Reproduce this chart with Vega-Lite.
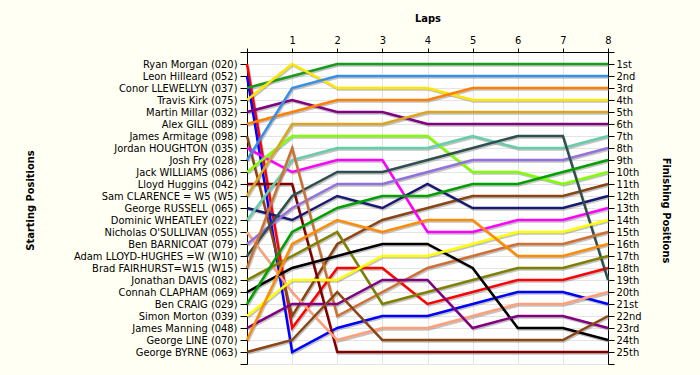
{
  "$schema": "https://vega.github.io/schema/vega-lite/v6.json",
  "autosize": {"type": "none"},
  "width": 361,
  "height": 312,
  "padding": {"left": 247, "top": 52, "right": 92, "bottom": 11},
  "background": "#FFFFF4",
  "view": {"fill": "white", "stroke": null},
  "config": {"font": "DejaVu Sans Condensed"},
  "data": {"values": [
    {"r":"Ryan Morgan (020)","l":0,"p":1},{"r":"Ryan Morgan (020)","l":1,"p":23},{"r":"Ryan Morgan (020)","l":2,"p":18},{"r":"Ryan Morgan (020)","l":3,"p":18},{"r":"Ryan Morgan (020)","l":4,"p":21},{"r":"Ryan Morgan (020)","l":5,"p":20},{"r":"Ryan Morgan (020)","l":6,"p":19},{"r":"Ryan Morgan (020)","l":7,"p":19},{"r":"Ryan Morgan (020)","l":8,"p":18},
    {"r":"Leon Hilleard (052)","l":0,"p":2},{"r":"Leon Hilleard (052)","l":1,"p":25},{"r":"Leon Hilleard (052)","l":2,"p":23},{"r":"Leon Hilleard (052)","l":3,"p":22},{"r":"Leon Hilleard (052)","l":4,"p":22},{"r":"Leon Hilleard (052)","l":5,"p":21},{"r":"Leon Hilleard (052)","l":6,"p":20},{"r":"Leon Hilleard (052)","l":7,"p":20},{"r":"Leon Hilleard (052)","l":8,"p":21},
    {"r":"Conor LLEWELLYN (037)","l":0,"p":3},{"r":"Conor LLEWELLYN (037)","l":1,"p":2},{"r":"Conor LLEWELLYN (037)","l":2,"p":1},{"r":"Conor LLEWELLYN (037)","l":3,"p":1},{"r":"Conor LLEWELLYN (037)","l":4,"p":1},{"r":"Conor LLEWELLYN (037)","l":5,"p":1},{"r":"Conor LLEWELLYN (037)","l":6,"p":1},{"r":"Conor LLEWELLYN (037)","l":7,"p":1},{"r":"Conor LLEWELLYN (037)","l":8,"p":1},
    {"r":"Travis Kirk (075)","l":0,"p":4},{"r":"Travis Kirk (075)","l":1,"p":1},{"r":"Travis Kirk (075)","l":2,"p":3},{"r":"Travis Kirk (075)","l":3,"p":3},{"r":"Travis Kirk (075)","l":4,"p":3},{"r":"Travis Kirk (075)","l":5,"p":4},{"r":"Travis Kirk (075)","l":6,"p":4},{"r":"Travis Kirk (075)","l":7,"p":4},{"r":"Travis Kirk (075)","l":8,"p":4},
    {"r":"Martin Millar (032)","l":0,"p":5},{"r":"Martin Millar (032)","l":1,"p":4},{"r":"Martin Millar (032)","l":2,"p":5},{"r":"Martin Millar (032)","l":3,"p":5},{"r":"Martin Millar (032)","l":4,"p":6},{"r":"Martin Millar (032)","l":5,"p":6},{"r":"Martin Millar (032)","l":6,"p":6},{"r":"Martin Millar (032)","l":7,"p":6},{"r":"Martin Millar (032)","l":8,"p":6},
    {"r":"Alex GILL (089)","l":0,"p":6},{"r":"Alex GILL (089)","l":1,"p":5},{"r":"Alex GILL (089)","l":2,"p":4},{"r":"Alex GILL (089)","l":3,"p":4},{"r":"Alex GILL (089)","l":4,"p":4},{"r":"Alex GILL (089)","l":5,"p":3},{"r":"Alex GILL (089)","l":6,"p":3},{"r":"Alex GILL (089)","l":7,"p":3},{"r":"Alex GILL (089)","l":8,"p":3},
    {"r":"James Armitage (098)","l":0,"p":7},{"r":"James Armitage (098)","l":1,"p":22},{"r":"James Armitage (098)","l":2,"p":16},{"r":"James Armitage (098)","l":3,"p":14},{"r":"James Armitage (098)","l":4,"p":13},{"r":"James Armitage (098)","l":5,"p":12},{"r":"James Armitage (098)","l":6,"p":12},{"r":"James Armitage (098)","l":7,"p":12},{"r":"James Armitage (098)","l":8,"p":11},
    {"r":"Jordan HOUGHTON (035)","l":0,"p":8},{"r":"Jordan HOUGHTON (035)","l":1,"p":10},{"r":"Jordan HOUGHTON (035)","l":2,"p":9},{"r":"Jordan HOUGHTON (035)","l":3,"p":9},{"r":"Jordan HOUGHTON (035)","l":4,"p":15},{"r":"Jordan HOUGHTON (035)","l":5,"p":15},{"r":"Jordan HOUGHTON (035)","l":6,"p":14},{"r":"Jordan HOUGHTON (035)","l":7,"p":14},{"r":"Jordan HOUGHTON (035)","l":8,"p":13},
    {"r":"Josh Fry (028)","l":0,"p":9},{"r":"Josh Fry (028)","l":1,"p":3},{"r":"Josh Fry (028)","l":2,"p":2},{"r":"Josh Fry (028)","l":3,"p":2},{"r":"Josh Fry (028)","l":4,"p":2},{"r":"Josh Fry (028)","l":5,"p":2},{"r":"Josh Fry (028)","l":6,"p":2},{"r":"Josh Fry (028)","l":7,"p":2},{"r":"Josh Fry (028)","l":8,"p":2},
    {"r":"Jack WILLIAMS (086)","l":0,"p":10},{"r":"Jack WILLIAMS (086)","l":1,"p":7},{"r":"Jack WILLIAMS (086)","l":2,"p":7},{"r":"Jack WILLIAMS (086)","l":3,"p":7},{"r":"Jack WILLIAMS (086)","l":4,"p":7},{"r":"Jack WILLIAMS (086)","l":5,"p":10},{"r":"Jack WILLIAMS (086)","l":6,"p":10},{"r":"Jack WILLIAMS (086)","l":7,"p":11},{"r":"Jack WILLIAMS (086)","l":8,"p":10},
    {"r":"Lloyd Huggins (042)","l":0,"p":11},{"r":"Lloyd Huggins (042)","l":1,"p":11},{"r":"Lloyd Huggins (042)","l":2,"p":25},{"r":"Lloyd Huggins (042)","l":3,"p":25},{"r":"Lloyd Huggins (042)","l":4,"p":25},{"r":"Lloyd Huggins (042)","l":5,"p":25},{"r":"Lloyd Huggins (042)","l":6,"p":25},{"r":"Lloyd Huggins (042)","l":7,"p":25},{"r":"Lloyd Huggins (042)","l":8,"p":25},
    {"r":"Sam CLARENCE = W5 (W5)","l":0,"p":12},{"r":"Sam CLARENCE = W5 (W5)","l":1,"p":6},{"r":"Sam CLARENCE = W5 (W5)","l":2,"p":6},{"r":"Sam CLARENCE = W5 (W5)","l":3,"p":6},{"r":"Sam CLARENCE = W5 (W5)","l":4,"p":5},{"r":"Sam CLARENCE = W5 (W5)","l":5,"p":5},{"r":"Sam CLARENCE = W5 (W5)","l":6,"p":5},{"r":"Sam CLARENCE = W5 (W5)","l":7,"p":5},{"r":"Sam CLARENCE = W5 (W5)","l":8,"p":5},
    {"r":"George RUSSELL (065)","l":0,"p":13},{"r":"George RUSSELL (065)","l":1,"p":14},{"r":"George RUSSELL (065)","l":2,"p":12},{"r":"George RUSSELL (065)","l":3,"p":13},{"r":"George RUSSELL (065)","l":4,"p":11},{"r":"George RUSSELL (065)","l":5,"p":13},{"r":"George RUSSELL (065)","l":6,"p":13},{"r":"George RUSSELL (065)","l":7,"p":13},{"r":"George RUSSELL (065)","l":8,"p":12},
    {"r":"Dominic WHEATLEY (022)","l":0,"p":14},{"r":"Dominic WHEATLEY (022)","l":1,"p":9},{"r":"Dominic WHEATLEY (022)","l":2,"p":8},{"r":"Dominic WHEATLEY (022)","l":3,"p":8},{"r":"Dominic WHEATLEY (022)","l":4,"p":8},{"r":"Dominic WHEATLEY (022)","l":5,"p":7},{"r":"Dominic WHEATLEY (022)","l":6,"p":8},{"r":"Dominic WHEATLEY (022)","l":7,"p":8},{"r":"Dominic WHEATLEY (022)","l":8,"p":7},
    {"r":"Nicholas O'SULLIVAN (055)","l":0,"p":15},{"r":"Nicholas O'SULLIVAN (055)","l":1,"p":20},{"r":"Nicholas O'SULLIVAN (055)","l":2,"p":24},{"r":"Nicholas O'SULLIVAN (055)","l":3,"p":23},{"r":"Nicholas O'SULLIVAN (055)","l":4,"p":23},{"r":"Nicholas O'SULLIVAN (055)","l":5,"p":22},{"r":"Nicholas O'SULLIVAN (055)","l":6,"p":21},{"r":"Nicholas O'SULLIVAN (055)","l":7,"p":21},{"r":"Nicholas O'SULLIVAN (055)","l":8,"p":20},
    {"r":"Ben BARNICOAT (079)","l":0,"p":16},{"r":"Ben BARNICOAT (079)","l":1,"p":13},{"r":"Ben BARNICOAT (079)","l":2,"p":11},{"r":"Ben BARNICOAT (079)","l":3,"p":11},{"r":"Ben BARNICOAT (079)","l":4,"p":10},{"r":"Ben BARNICOAT (079)","l":5,"p":9},{"r":"Ben BARNICOAT (079)","l":6,"p":9},{"r":"Ben BARNICOAT (079)","l":7,"p":9},{"r":"Ben BARNICOAT (079)","l":8,"p":8},
    {"r":"Adam LLOYD-HUGHES =W (W10)","l":0,"p":17},{"r":"Adam LLOYD-HUGHES =W (W10)","l":1,"p":12},{"r":"Adam LLOYD-HUGHES =W (W10)","l":2,"p":10},{"r":"Adam LLOYD-HUGHES =W (W10)","l":3,"p":10},{"r":"Adam LLOYD-HUGHES =W (W10)","l":4,"p":9},{"r":"Adam LLOYD-HUGHES =W (W10)","l":5,"p":8},{"r":"Adam LLOYD-HUGHES =W (W10)","l":6,"p":7},{"r":"Adam LLOYD-HUGHES =W (W10)","l":7,"p":7},{"r":"Adam LLOYD-HUGHES =W (W10)","l":8,"p":19},
    {"r":"Brad FAIRHURST=W15 (W15)","l":0,"p":18},{"r":"Brad FAIRHURST=W15 (W15)","l":1,"p":8},{"r":"Brad FAIRHURST=W15 (W15)","l":2,"p":22},{"r":"Brad FAIRHURST=W15 (W15)","l":3,"p":20},{"r":"Brad FAIRHURST=W15 (W15)","l":4,"p":18},{"r":"Brad FAIRHURST=W15 (W15)","l":5,"p":17},{"r":"Brad FAIRHURST=W15 (W15)","l":6,"p":16},{"r":"Brad FAIRHURST=W15 (W15)","l":7,"p":16},{"r":"Brad FAIRHURST=W15 (W15)","l":8,"p":15},
    {"r":"Jonathan DAVIS (082)","l":0,"p":19},{"r":"Jonathan DAVIS (082)","l":1,"p":17},{"r":"Jonathan DAVIS (082)","l":2,"p":15},{"r":"Jonathan DAVIS (082)","l":3,"p":21},{"r":"Jonathan DAVIS (082)","l":4,"p":20},{"r":"Jonathan DAVIS (082)","l":5,"p":19},{"r":"Jonathan DAVIS (082)","l":6,"p":18},{"r":"Jonathan DAVIS (082)","l":7,"p":18},{"r":"Jonathan DAVIS (082)","l":8,"p":17},
    {"r":"Connah CLAPHAM (069)","l":0,"p":20},{"r":"Connah CLAPHAM (069)","l":1,"p":18},{"r":"Connah CLAPHAM (069)","l":2,"p":17},{"r":"Connah CLAPHAM (069)","l":3,"p":16},{"r":"Connah CLAPHAM (069)","l":4,"p":16},{"r":"Connah CLAPHAM (069)","l":5,"p":18},{"r":"Connah CLAPHAM (069)","l":6,"p":23},{"r":"Connah CLAPHAM (069)","l":7,"p":23},{"r":"Connah CLAPHAM (069)","l":8,"p":24},
    {"r":"Ben CRAIG (029)","l":0,"p":21},{"r":"Ben CRAIG (029)","l":1,"p":15},{"r":"Ben CRAIG (029)","l":2,"p":13},{"r":"Ben CRAIG (029)","l":3,"p":12},{"r":"Ben CRAIG (029)","l":4,"p":12},{"r":"Ben CRAIG (029)","l":5,"p":11},{"r":"Ben CRAIG (029)","l":6,"p":11},{"r":"Ben CRAIG (029)","l":7,"p":10},{"r":"Ben CRAIG (029)","l":8,"p":9},
    {"r":"Simon Morton (039)","l":0,"p":22},{"r":"Simon Morton (039)","l":1,"p":19},{"r":"Simon Morton (039)","l":2,"p":19},{"r":"Simon Morton (039)","l":3,"p":17},{"r":"Simon Morton (039)","l":4,"p":17},{"r":"Simon Morton (039)","l":5,"p":16},{"r":"Simon Morton (039)","l":6,"p":15},{"r":"Simon Morton (039)","l":7,"p":15},{"r":"Simon Morton (039)","l":8,"p":14},
    {"r":"James Manning (048)","l":0,"p":23},{"r":"James Manning (048)","l":1,"p":21},{"r":"James Manning (048)","l":2,"p":21},{"r":"James Manning (048)","l":3,"p":19},{"r":"James Manning (048)","l":4,"p":19},{"r":"James Manning (048)","l":5,"p":23},{"r":"James Manning (048)","l":6,"p":22},{"r":"James Manning (048)","l":7,"p":22},{"r":"James Manning (048)","l":8,"p":23},
    {"r":"George LINE (070)","l":0,"p":24},{"r":"George LINE (070)","l":1,"p":16},{"r":"George LINE (070)","l":2,"p":14},{"r":"George LINE (070)","l":3,"p":15},{"r":"George LINE (070)","l":4,"p":14},{"r":"George LINE (070)","l":5,"p":14},{"r":"George LINE (070)","l":6,"p":17},{"r":"George LINE (070)","l":7,"p":17},{"r":"George LINE (070)","l":8,"p":16},
    {"r":"George BYRNE (063)","l":0,"p":25},{"r":"George BYRNE (063)","l":1,"p":24},{"r":"George BYRNE (063)","l":2,"p":20},{"r":"George BYRNE (063)","l":3,"p":24},{"r":"George BYRNE (063)","l":4,"p":24},{"r":"George BYRNE (063)","l":5,"p":24},{"r":"George BYRNE (063)","l":6,"p":24},{"r":"George BYRNE (063)","l":7,"p":24},{"r":"George BYRNE (063)","l":8,"p":22}
  ]},
  "encoding": {
    "x": {"field": "l", "type": "quantitative", "scale": {"domain": [0, 8], "nice": false, "zero": false},
      "axis": {"orient": "top", "values": [0,1,2,3,4,5,6,7,8], "labelExpr": "datum.value == 0 ? '' : datum.label",
        "title": "Laps", "titleY": -34, "titleBaseline": "middle", "titleFontSize": 11, "titleFontWeight": "bold", "titleColor": "black",
        "tickSize": 4, "tickColor": "black", "domainColor": "black", "labelPadding": 3, "labelFontSize": 11, "labelColor": "black",
        "grid": true, "gridColor": "#e4e4e4", "labelFlush": false}},
    "detail": {"field": "r"}
  },
  "layer": [
    {
      "mark": {"type": "line", "color": "#7a7a7a", "opacity": 0.45, "strokeWidth": 2.5, "xOffset": 1, "yOffset": 1.5},
      "encoding": {
        "y": {"field": "p", "type": "quantitative", "scale": {"domain": [0, 26], "reverse": true, "nice": false, "zero": false},
          "axis": {"orient": "left", "values": [0,1,2,3,4,5,6,7,8,9,10,11,12,13,14,15,16,17,18,19,20,21,22,23,24,25,26],
            "labelExpr": "[\"\",\"Ryan Morgan (020)\",\"Leon Hilleard (052)\",\"Conor LLEWELLYN (037)\",\"Travis Kirk (075)\",\"Martin Millar (032)\",\"Alex GILL (089)\",\"James Armitage (098)\",\"Jordan HOUGHTON (035)\",\"Josh Fry (028)\",\"Jack WILLIAMS (086)\",\"Lloyd Huggins (042)\",\"Sam CLARENCE = W5 (W5)\",\"George RUSSELL (065)\",\"Dominic WHEATLEY (022)\",\"Nicholas O'SULLIVAN (055)\",\"Ben BARNICOAT (079)\",\"Adam LLOYD-HUGHES =W (W10)\",\"Brad FAIRHURST=W15 (W15)\",\"Jonathan DAVIS (082)\",\"Connah CLAPHAM (069)\",\"Ben CRAIG (029)\",\"Simon Morton (039)\",\"James Manning (048)\",\"George LINE (070)\",\"George BYRNE (063)\",\"\"][datum.value]",
            "title": "Starting Positions", "titleX": -217, "titleY": 148, "titleAngle": -90, "titleAlign": "center", "titleBaseline": "middle",
            "titleFontSize": 11, "titleFontWeight": "bold", "titleColor": "black",
            "tickSize": 7, "tickColor": "black", "domainColor": "black", "labelPadding": 3, "labelFontSize": 11, "labelColor": "black",
            "grid": true, "gridColor": "#e4e4e4", "labelFlush": false, "labelOverlap": false}}
      }
    },
    {
      "mark": {"type": "line", "strokeWidth": 2.5},
      "encoding": {
        "y": {"field": "p", "type": "quantitative", "scale": {"domain": [0, 26], "reverse": true, "nice": false, "zero": false},
          "axis": {"orient": "right", "values": [0,1,2,3,4,5,6,7,8,9,10,11,12,13,14,15,16,17,18,19,20,21,22,23,24,25,26],
            "labelExpr": "datum.value < 1 || datum.value > 25 ? '' : datum.value + ((datum.value % 10 == 1 && datum.value != 11) ? 'st' : (datum.value % 10 == 2 && datum.value != 12) ? 'nd' : (datum.value % 10 == 3 && datum.value != 13) ? 'rd' : 'th')",
            "title": "Finishing Positions", "titleX": 57, "titleY": 158, "titleAngle": 90, "titleAlign": "center", "titleBaseline": "middle",
            "titleFontSize": 11, "titleFontWeight": "bold", "titleColor": "black",
            "tickSize": 6, "tickColor": "black", "domainColor": "black", "labelPadding": 2, "labelFontSize": 11, "labelColor": "black",
            "grid": false, "labelFlush": false, "labelOverlap": false}},
        "color": {"field": "r", "type": "nominal", "legend": null,
          "scale": {"domain": ["Ryan Morgan (020)","Leon Hilleard (052)","Conor LLEWELLYN (037)","Travis Kirk (075)","Martin Millar (032)","Alex GILL (089)","James Armitage (098)","Jordan HOUGHTON (035)","Josh Fry (028)","Jack WILLIAMS (086)","Lloyd Huggins (042)","Sam CLARENCE = W5 (W5)","George RUSSELL (065)","Dominic WHEATLEY (022)","Nicholas O'SULLIVAN (055)","Ben BARNICOAT (079)","Adam LLOYD-HUGHES =W (W10)","Brad FAIRHURST=W15 (W15)","Jonathan DAVIS (082)","Connah CLAPHAM (069)","Ben CRAIG (029)","Simon Morton (039)","James Manning (048)","George LINE (070)","George BYRNE (063)"],
            "range": ["#FF0000","#0000FF","#1A9A1A","#FFE600","#800080","#FF8000","#8B4513","#FF00FF","#3A8EE6","#7FFF00","#800000","#DAA520","#191970","#66CDAA","#FFA07A","#9370DB","#2F4F4F","#CD7032","#808000","#000000","#00A000","#FFFF00","#800080","#FF8C00","#8B4513"]}}
      }
    }
  ],
  "resolve": {"axis": {"y": "independent"}}
}
